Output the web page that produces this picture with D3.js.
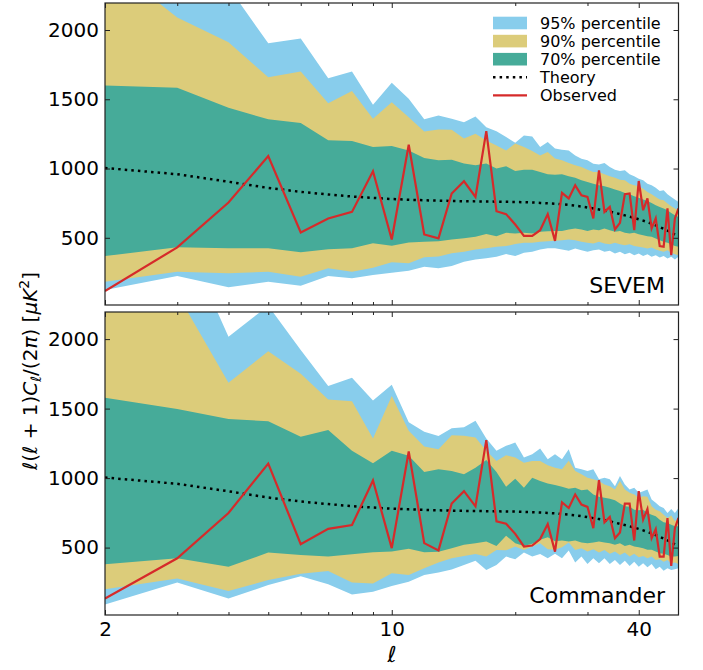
<!DOCTYPE html>
<html>
<head>
<meta charset="utf-8">
<script src="https://cdnjs.cloudflare.com/ajax/libs/d3/7.8.5/d3.min.js"></script>
<style>
  body { margin: 0; background: #fff; }
  text { font-family: "DejaVu Sans", sans-serif; }
</style>
</head>
<body>
<div id="chart"></div>
<script>
const width = 703;
const height = 670;

// multipole values (x)
const ell = [2,3,4,5,6,7,8,9,10,11,12,13,14,15,16,17,18,19,20,21,22,23,24,25,26,
             27,28,29,30,31,32,33,34,35,36,37,38,39,40,41,42,43,44,45,46,47,48,49,50];
const xMajor = [2, 10, 40];
const xMinor = [3,4,5,6,7,8,9,20,30];
const yTicks = [500, 1000, 1500, 2000];

const theory = [1004,959,905,860,832,813,798,788,780,775,771,768,766,764,763,762,761,760,759,757,755,752,749,746,
                742,737,732,726,719,712,705,697,689,680,671,662,653,644,634,624,613,602,590,578,565,552,538,523,508];

// SEVEM
const sevemHi95 = [2800,2600,2310,1904,1938,1652,1700,1460,1619,1504,1355,1383,1360,1335,1376,1299,1270,1227,1187,1239,1232,1155,1191,1144,
                   1136,1131,1095,1071,1059,1035,1030,1040,1011,992,982,987,958,944,927,915,891,879,862,838,843,814,795,776,759];
const sevemHi90 = [2500,2091,1911,1659,1700,1472,1560,1360,1479,1371,1268,1282,1280,1216,1252,1203,1167,1131,1180,1155,1126,1095,1119,1072,
                   1059,1040,1023,1011,992,975,975,958,944,934,920,915,891,879,872,855,831,814,795,776,771,747,728,711,699];
const sevemHi70 = [1599,1583,1439,1355,1328,1205,1198,1155,1162,1131,1076,1059,1064,1036,1023,1036,1000,1016,982,992,992,975,959,956,
                   958,944,934,915,903,891,879,872,862,848,838,824,814,800,790,776,766,752,735,723,711,699,680,663,651];
const sevemLo70 = [368,431,424,424,395,417,424,460,442,467,471,475,488,496,507,527,512,536,532,536,532,543,548,550,
                   550,560,567,560,550,560,555,567,555,543,550,536,531,536,526,519,512,507,495,483,471,464,454,440,435];
const sevemLo90 = [183,255,244,255,219,280,255,284,323,316,359,365,388,399,416,424,435,440,455,464,464,471,476,478,
                   483,488,483,471,464,459,471,459,454,464,454,447,454,440,435,430,423,430,416,406,399,411,392,382,375];
const sevemLo95 = [123,224,143,183,154,224,208,231,248,262,291,280,296,327,344,352,363,383,368,392,399,416,424,424,
                   416,406,423,411,399,411,416,399,406,387,399,382,392,375,387,368,382,363,375,358,368,351,363,344,363];
const sevemObs  = [116,431,755,1090,539,640,687,980,488,1172,524,496,820,908,795,1270,692,671,596,514,514,555,671,478,
                   824,784,879,807,795,640,987,687,723,560,608,815,820,555,910,699,784,568,640,440,435,712,375,640,712];

// Commander
const commHi95 = [3000,2840,2017,2240,1921,1662,1722,1558,1672,1401,1334,1302,1358,1365,1413,1285,1196,1232,1256,1148,1172,1213,1136,1172,
                  1136,1208,1075,1063,1051,1063,991,1003,991,942,1015,954,918,930,894,906,918,846,822,797,785,749,778,749,785];
const commHi90 = [2700,2326,1686,1913,1751,1565,1552,1285,1590,1341,1227,1208,1309,1305,1292,1196,1123,1164,1148,1111,1123,1123,1092,1075,
                  1063,1124,1051,1027,1003,991,979,954,942,918,979,918,894,882,858,870,865,797,773,761,737,713,730,689,713];
const commHi70 = [1578,1498,1425,1409,1297,1346,1196,1107,1196,1160,1044,1063,1051,1027,1075,1131,1044,938,995,930,1003,979,962,950,
                  938,923,930,913,918,882,865,858,851,841,817,797,793,773,768,773,749,737,725,701,682,677,665,653,653];
const commLo70 = [380,423,363,464,447,435,452,467,472,491,467,470,495,520,532,544,512,585,532,512,527,556,575,546,
                  551,544,551,537,532,537,544,537,532,520,532,512,520,508,503,496,484,484,471,459,455,447,435,435,440];
const commLo90 = [201,278,187,266,311,331,248,242,315,303,351,393,423,440,454,435,483,480,508,483,508,532,488,485,
                  503,537,483,496,471,488,464,483,455,471,447,464,435,455,430,440,423,435,411,416,399,411,387,392,382];
const commLo95 = [90,249,133,230,294,236,163,182,223,254,302,320,343,375,406,339,375,435,416,464,435,454,423,455,
                  423,479,392,435,382,423,387,423,382,411,375,406,368,399,363,387,358,382,344,363,334,351,339,344,351];
const commObs  = [133,423,749,1104,525,635,662,983,496,1191,532,480,817,906,797,1273,689,672,599,508,515,561,669,471,
                  826,785,882,810,793,640,986,682,720,568,609,817,817,551,906,701,778,568,633,435,435,713,368,640,713];

const colors = {c95: '#88cdec', c90: '#dccc7a', c70: '#46ab99', obs: '#d62a2a', theory: '#000'};

const svg = d3.select('#chart')
    .append('svg')
    .attr('width', width)
    .attr('height', height)
    .style('background', '#fff');

const x = d3.scaleLog().domain([2, 50]).range([105, 678.5]);

function drawPanel(id, top, bottom, bands, obs, label, showXLabels) {
    const y = d3.scaleLinear().domain([15, 2195]).range([bottom, top]);
    const g = svg.append('g');

    g.append('clipPath').attr('id', 'clip' + id)
        .append('rect')
        .attr('x', x.range()[0]).attr('y', top)
        .attr('width', x.range()[1] - x.range()[0]).attr('height', bottom - top);

    const plot = g.append('g').attr('clip-path', `url(#clip${id})`);

    bands.forEach(b => {
        const area = d3.area()
            .x((d, i) => x(ell[i]))
            .y0((d, i) => y(b.lo[i]))
            .y1((d, i) => y(b.hi[i]));
        plot.append('path')
            .datum(b.lo)
            .attr('d', area)
            .attr('fill', b.color);
    });

    const line = d3.line().x((d, i) => x(ell[i])).y(d => y(d));

    plot.append('path')
        .datum(theory)
        .attr('d', line)
        .attr('fill', 'none')
        .attr('stroke', colors.theory)
        .attr('stroke-width', 2.5)
        .attr('stroke-dasharray', '2.5,4.1');

    plot.append('path')
        .datum(obs)
        .attr('d', line)
        .attr('fill', 'none')
        .attr('stroke', colors.obs)
        .attr('stroke-width', 2.2)
        .attr('stroke-linejoin', 'miter');

    // axes, ticks pointing inward
    const left = x.range()[0], right = x.range()[1];
    g.append('g').attr('transform', `translate(${left},0)`)
        .call(d3.axisLeft(y).tickValues(yTicks).tickFormat(d3.format('d'))
            .tickSizeInner(-5).tickSizeOuter(0).tickPadding(6))
        .call(a => a.select('.domain').remove())
        .call(a => a.selectAll('text').attr('font-size', 20).attr('fill', '#000').attr('font-family', '"DejaVu Sans"'));
    g.append('g').attr('transform', `translate(${right},0)`)
        .call(d3.axisRight(y).tickValues(yTicks).tickSizeInner(-5).tickSizeOuter(0).tickFormat(''))
        .call(a => a.select('.domain').remove());

    [[bottom, d3.axisBottom], [top, d3.axisTop]].forEach(([yy, ax]) => {
        g.append('g').attr('transform', `translate(0,${yy})`)
            .call(ax(x).tickValues(xMajor).tickSizeInner(-5).tickSizeOuter(0).tickPadding(7)
                .tickFormat(showXLabels && yy === bottom ? d3.format('d') : ''))
            .call(a => a.select('.domain').remove())
            .call(a => a.selectAll('text').attr('font-size', 20).attr('fill', '#000').attr('font-family', '"DejaVu Sans"'));
        g.append('g').attr('transform', `translate(0,${yy})`)
            .call(ax(x).tickValues(xMinor).tickSizeInner(-3).tickSizeOuter(0).tickFormat(''))
            .call(a => a.select('.domain').remove());
    });
    g.selectAll('.tick line').attr('stroke', '#222');

    g.append('rect')
        .attr('x', left).attr('y', top)
        .attr('width', right - left).attr('height', bottom - top)
        .attr('fill', 'none')
        .attr('stroke', '#222')
        .attr('stroke-width', 1.2);

    g.append('text')
        .attr('x', 665).attr('y', bottom - 12)
        .attr('text-anchor', 'end')
        .attr('font-size', 22)
        .text(label);
    return y;
}

drawPanel('a', 3, 305, [
    {lo: sevemLo95, hi: sevemHi95, color: colors.c95},
    {lo: sevemLo90, hi: sevemHi90, color: colors.c90},
    {lo: sevemLo70, hi: sevemHi70, color: colors.c70}
], sevemObs, 'SEVEM', false);

drawPanel('b', 312, 615, [
    {lo: commLo95, hi: commHi95, color: colors.c95},
    {lo: commLo90, hi: commHi90, color: colors.c90},
    {lo: commLo70, hi: commHi70, color: colors.c70}
], commObs, 'Commander', true);

// legend
const legendItems = [
    {name: '95% percentile', type: 'patch', color: colors.c95},
    {name: '90% percentile', type: 'patch', color: colors.c90},
    {name: '70% percentile', type: 'patch', color: colors.c70},
    {name: 'Theory', type: 'dots', color: colors.theory},
    {name: 'Observed', type: 'line', color: colors.obs}
];
const legend = svg.append('g').attr('transform', 'translate(493,23)');
legendItems.forEach((d, i) => {
    const row = legend.append('g').attr('transform', `translate(0,${i * 18.1})`);
    if (d.type === 'patch') {
        row.append('rect').attr('x', 0).attr('y', -6.3).attr('width', 34).attr('height', 12.6).attr('fill', d.color);
    } else {
        row.append('line').attr('x1', 0).attr('x2', 34).attr('y1', 0).attr('y2', 0)
            .attr('stroke', d.color)
            .attr('stroke-width', d.type === 'dots' ? 2.5 : 2.2)
            .attr('stroke-dasharray', d.type === 'dots' ? '2.5,4.1' : null);
    }
    row.append('text').attr('x', 47).attr('y', 0).attr('dy', '0.35em')
        .attr('font-size', 16).text(d.name);
});

// axis labels
svg.append('text')
    .attr('x', 392).attr('y', 662)
    .attr('text-anchor', 'middle')
    .attr('font-size', 22)
    .attr('font-style', 'italic')
    .text('ℓ');

const ylab = svg.append('text')
    .attr('transform', 'translate(37,371) rotate(-90)')
    .attr('text-anchor', 'middle')
    .attr('font-size', 20);
const parts = [
    ['ℓ', 'italic'], ['(', null], ['ℓ', 'italic'], [' + 1)', null], ['C', 'italic'],
    ['ℓ', 'italic', 'sub'], ['/(2', null, 'back'], ['π', 'italic'], [') [', null], ['μK', 'italic'],
    ['2', null, 'sup'], [']', null, 'back2']
];
parts.forEach(p => {
    const t = ylab.append('tspan').text(p[0]);
    if (p[1]) t.attr('font-style', p[1]);
    if (p[2] === 'sub') t.attr('font-size', 14).attr('dy', 4);
    if (p[2] === 'back') t.attr('dy', -4);
    if (p[2] === 'sup') t.attr('font-size', 14).attr('dy', -8);
    if (p[2] === 'back2') t.attr('dy', 8);
});
</script>
</body>
</html>
